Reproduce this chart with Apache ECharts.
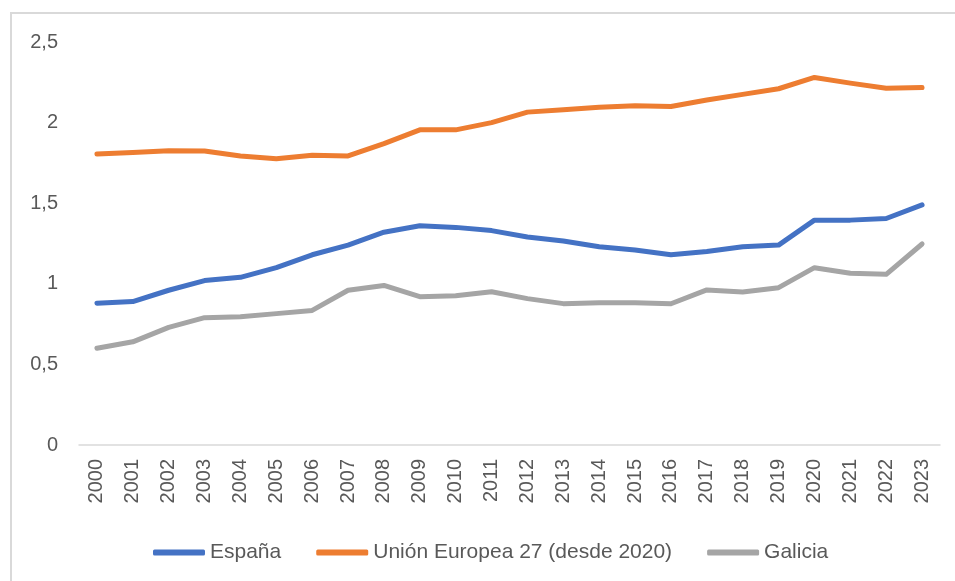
<!DOCTYPE html>
<html>
<head>
<meta charset="utf-8">
<script src="https://cdn.jsdelivr.net/npm/echarts@6/dist/echarts.min.js"></script>
<style>
  html, body { margin: 0; padding: 0; background: #fff; }
  #chart { width: 955px; height: 581px; }
</style>
</head>
<body>
<div id="chart"></div>
<script>
var years = ['2000','2001','2002','2003','2004','2005','2006','2007','2008','2009','2010','2011',
             '2012','2013','2014','2015','2016','2017','2018','2019','2020','2021','2022','2023']
var espana = [0.88,0.89,0.96,1.02,1.04,1.10,1.18,1.24,1.32,1.36,1.35,1.33,
              1.29,1.265,1.23,1.21,1.18,1.20,1.23,1.24,1.395,1.395,1.405,1.49]
var ue27 = [1.805,1.815,1.826,1.824,1.793,1.776,1.797,1.793,1.87,1.955,1.955,2.0,
            2.065,2.08,2.095,2.105,2.10,2.14,2.175,2.21,2.28,2.245,2.213,2.218]
var galicia = [0.60,0.64,0.73,0.79,0.796,0.815,0.835,0.96,0.99,0.92,0.926,0.951,
               0.908,0.877,0.883,0.883,0.876,0.962,0.949,0.976,1.10,1.065,1.059,1.247]
var yTicks = [0, 0.5, 1, 1.5, 2, 2.5]

var chart = echarts.init(document.getElementById('chart'))

var txtColor = '#595959'
var font = 'Liberation Sans'

function mkLine(name, data, color) {
    return {
        name: name,
        type: 'line',
        data: data,
        symbol: 'none',
        smooth: false,
        lineStyle: { width: 5, color: color, cap: 'round', join: 'round' },
        itemStyle: { color: color }
    }
}

var option = {
    animation: false,
    backgroundColor: '#fff',
    graphic: [{
        type: 'rect',
        shape: { x: 11, y: 13, width: 1000, height: 1000 },
        style: { fill: 'none', stroke: '#D9D9D9', lineWidth: 2 },
        silent: true
    }],
    grid: { left: 79, right: 15, top: 42, bottom: 136 },
    legend: {
        left: 148,
        top: 537,
        itemWidth: 52,
        itemHeight: 6,
        itemGap: 35,
        icon: 'roundRect',
        textStyle: { color: txtColor, fontSize: 21, fontFamily: font },
        data: ['España', 'Unión Europea 27 (desde 2020)', 'Galicia']
    },
    xAxis: {
        type: 'category',
        data: years,
        boundaryGap: true,
        axisLine: { lineStyle: { color: '#D9D9D9', width: 1.5 } },
        axisTick: { show: false },
        axisLabel: {
            rotate: 90,
            margin: 14,
            interval: 0,
            color: txtColor,
            fontSize: 20,
            fontFamily: font
        }
    },
    yAxis: {
        type: 'value',
        min: yTicks[0],
        max: yTicks[yTicks.length - 1],
        interval: 0.5,
        axisLine: { show: false },
        axisTick: { show: false },
        splitLine: { show: false },
        axisLabel: {
            margin: 21,
            color: txtColor,
            fontSize: 20,
            fontFamily: font,
            formatter: function (v) { return String(v).replace('.', ',') }
        }
    },
    series: [
        mkLine('España', espana, '#4472C4'),
        mkLine('Unión Europea 27 (desde 2020)', ue27, '#ED7D31'),
        mkLine('Galicia', galicia, '#A5A5A5')
    ]
}

chart.setOption(option)
</script>
</body>
</html>
